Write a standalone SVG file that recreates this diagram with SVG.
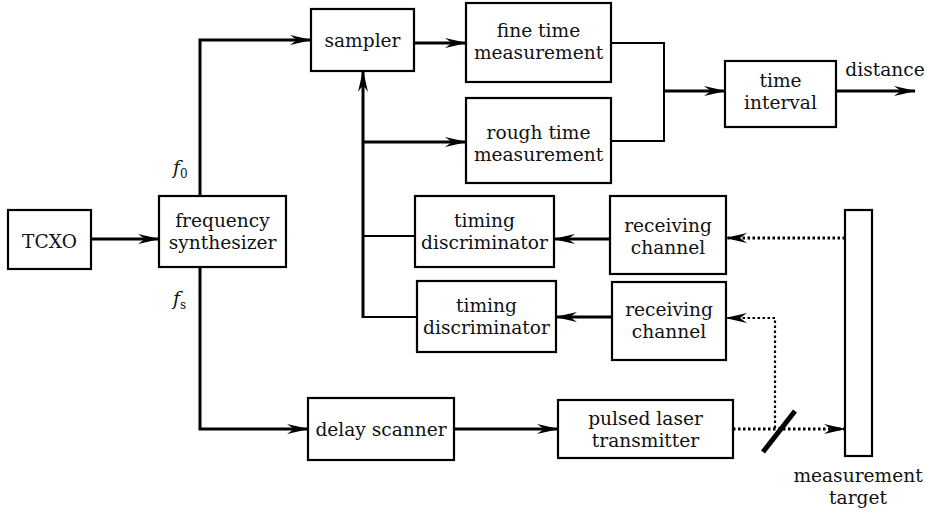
<svg xmlns="http://www.w3.org/2000/svg" width="927" height="512" viewBox="0 0 927 512">
  <style>
    .box { fill: #fff; stroke: #000; stroke-width: 2.2; }
    .lbl { font-family: "DejaVu Serif", "Liberation Serif", serif; font-size: 18.6px; fill: #111; text-anchor: middle; }
    .sym { font-family: "DejaVu Serif", "Liberation Serif", serif; font-size: 19px; fill: #111; }
    .w { fill: none; stroke: #000; stroke-width: 3; }
    .thin { fill: none; stroke: #000; stroke-width: 2; }
    .dot { fill: none; stroke: #000; stroke-width: 3; stroke-dasharray: 2.5 2.5; }
    .dotthin { fill: none; stroke: #000; stroke-width: 2.2; stroke-dasharray: 2.5 2.5; }
  </style>
  <defs>
    <marker id="arrow" markerUnits="userSpaceOnUse" viewBox="0 0 22 10" refX="21" refY="5" markerWidth="22" markerHeight="10" orient="auto">
      <path d="M0,0 L22,5 L0,10 L7,5 Z" fill="#000"/>
    </marker>
  </defs>

  <rect width="927" height="512" fill="#fff"/>

  <!-- connectors -->
  <g id="connectors">
    <path class="w" d="M91,239 H159" marker-end="url(#arrow)"/>
    <path class="w" d="M200,196 V40 H311" marker-end="url(#arrow)"/>
    <path class="w" d="M200,267 V429 H308" marker-end="url(#arrow)"/>
    <path class="w" d="M414,43 H466" marker-end="url(#arrow)"/>
    <path class="w" d="M363,318 V71" marker-end="url(#arrow)"/>
    <path class="w" d="M363,142 H466" marker-end="url(#arrow)"/>
    <path class="thin" d="M415,236 H363"/>
    <path class="thin" d="M417,317 H363"/>
    <path class="thin" d="M611,43 H664 V141 H611"/>
    <path class="w" d="M664,91 H725" marker-end="url(#arrow)"/>
    <path class="w" d="M836,91 H915" marker-end="url(#arrow)"/>
    <path class="w" d="M610,239 H554" marker-end="url(#arrow)"/>
    <path class="w" d="M612,317 H556" marker-end="url(#arrow)"/>
    <path class="w" d="M454,429 H558" marker-end="url(#arrow)"/>
    <path class="dot" d="M845,238 H726" marker-end="url(#arrow)"/>
    <path class="dotthin" d="M775,428 V318 H726" marker-end="url(#arrow)"/>
    <path class="dot" d="M733,429 H845" marker-end="url(#arrow)"/>
    <!-- beam splitter -->
    <line x1="763" y1="452" x2="795" y2="411" stroke="#000" stroke-width="5"/>
  </g>

  <!-- frequency labels -->
  <text class="sym" x="173" y="174"><tspan font-style="italic">f</tspan><tspan font-size="12" dy="4">0</tspan></text>
  <text class="sym" x="173" y="305"><tspan font-style="italic">f</tspan><tspan font-size="12" dy="4">s</tspan></text>

  <g id="tcxo">
    <rect class="box" x="8" y="210" width="83" height="59"/>
    <text class="lbl" x="49.5" y="248">TCXO</text>
  </g>

  <g id="freq-synth">
    <rect class="box" x="159" y="196" width="127" height="71"/>
    <text class="lbl" x="222.5" y="227">frequency</text>
    <text class="lbl" x="222.5" y="249">synthesizer</text>
  </g>

  <g id="sampler">
    <rect class="box" x="311" y="9" width="103" height="62"/>
    <text class="lbl" x="362.5" y="47">sampler</text>
  </g>

  <g id="fine-time">
    <rect class="box" x="466" y="3" width="145" height="79"/>
    <text class="lbl" x="538.5" y="37">fine time</text>
    <text class="lbl" x="538.5" y="59">measurement</text>
  </g>

  <g id="rough-time">
    <rect class="box" x="466" y="98" width="145" height="85"/>
    <text class="lbl" x="538.5" y="139">rough time</text>
    <text class="lbl" x="538.5" y="161">measurement</text>
  </g>

  <g id="time-interval">
    <rect class="box" x="725" y="61" width="111" height="66"/>
    <text class="lbl" x="780.5" y="87">time</text>
    <text class="lbl" x="780.5" y="109">interval</text>
  </g>

  <text class="lbl" x="885" y="76">distance</text>

  <g id="timing-disc-1">
    <rect class="box" x="415" y="196" width="139" height="71"/>
    <text class="lbl" x="484.5" y="227">timing</text>
    <text class="lbl" x="484.5" y="249">discriminator</text>
  </g>

  <g id="timing-disc-2">
    <rect class="box" x="417" y="281" width="139" height="71"/>
    <text class="lbl" x="486.5" y="312">timing</text>
    <text class="lbl" x="486.5" y="334">discriminator</text>
  </g>

  <g id="recv-channel-1">
    <rect class="box" x="610" y="196" width="116" height="78"/>
    <text class="lbl" x="668" y="232">receiving</text>
    <text class="lbl" x="668" y="254">channel</text>
  </g>

  <g id="recv-channel-2">
    <rect class="box" x="612" y="282" width="114" height="78"/>
    <text class="lbl" x="669" y="316">receiving</text>
    <text class="lbl" x="669" y="338">channel</text>
  </g>

  <g id="delay-scanner">
    <rect class="box" x="308" y="398" width="146" height="62"/>
    <text class="lbl" x="381" y="436">delay scanner</text>
  </g>

  <g id="laser-tx">
    <rect class="box" x="558" y="400" width="175" height="58"/>
    <text class="lbl" x="645.5" y="425">pulsed laser</text>
    <text class="lbl" x="645.5" y="447">transmitter</text>
  </g>

  <g id="target">
    <rect class="box" x="845" y="210" width="27" height="246"/>
    <text class="lbl" x="858" y="482">measurement</text>
    <text class="lbl" x="858" y="504">target</text>
  </g>
</svg>
